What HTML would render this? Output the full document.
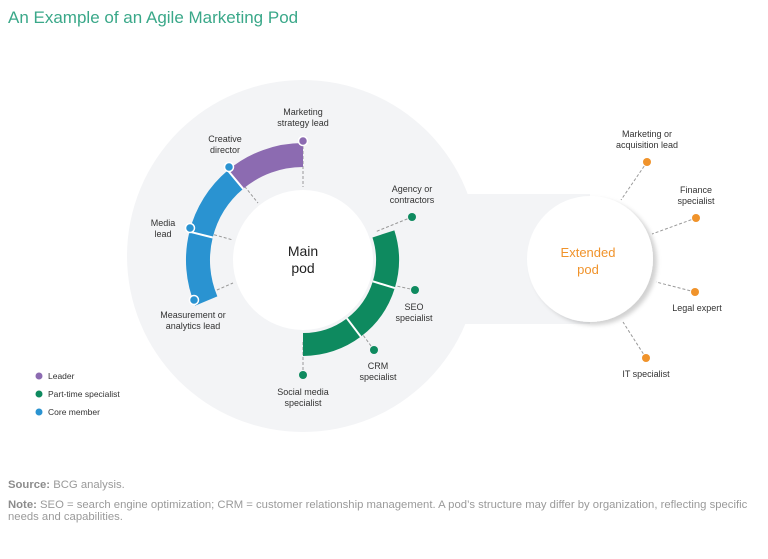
<!DOCTYPE html>
<html><head><meta charset="utf-8"><style>
html,body{margin:0;padding:0;background:#fff;width:768px;height:559px;overflow:hidden;font-family:"Liberation Sans",sans-serif;}
.t{position:absolute;left:8px;top:8px;font-size:17px;color:#3aa889;}
.f{position:absolute;left:8px;font-size:11.3px;color:#9a9a9a;line-height:12px;}
.f b{color:#8c8c8c;}
</style></head><body>
<div class="t">An Example of an Agile Marketing Pod</div>
<svg width="768" height="559" style="position:absolute;left:0;top:0" font-family="Liberation Sans, sans-serif">
<defs><filter id="sh" x="-20%" y="-20%" width="150%" height="150%"><feDropShadow dx="4" dy="3" stdDeviation="2" flood-color="#000" flood-opacity="0.18"/></filter></defs>
<circle cx="303" cy="256" r="176" fill="#f3f4f6"/>
<rect x="400" y="194" width="190" height="130" fill="#f3f4f6"/>
<circle cx="590" cy="259" r="63" fill="#fff" filter="url(#sh)"/>
<circle cx="303" cy="260" r="70" fill="#fff"/>
<g stroke="#999" stroke-width="1" stroke-dasharray="3,2">
<line x1="303" y1="141" x2="303" y2="187"/>
<line x1="229" y1="167" x2="258" y2="203"/>
<line x1="190" y1="228" x2="233" y2="240"/>
<line x1="194" y1="300" x2="233" y2="283"/>
<line x1="412" y1="217" x2="375" y2="232"/>
<line x1="415" y1="290" x2="378" y2="282"/>
<line x1="374" y1="350" x2="352" y2="320"/>
<line x1="303" y1="375" x2="303" y2="340"/>
<line x1="647" y1="162" x2="621" y2="200"/>
<line x1="696" y1="218" x2="652" y2="234"/>
<line x1="695" y1="292" x2="656" y2="282"/>
<line x1="646" y1="358" x2="623" y2="322"/>
</g>
<g fill="none" stroke-width="24">
<path d="M303,155 A105,105 0 0 0 235.5,179.6" stroke="#8c6bb1"/>
<path d="M235.5,179.6 A105,105 0 0 0 201.1,234.6" stroke="#2a93d1"/>
<path d="M201.1,234.6 A105,105 0 0 0 206.3,301" stroke="#2a93d1"/>
</g>
<g fill="none" stroke-width="23">
<path d="M383.4,233.9 A84.5,84.5 0 0 1 383.8,284.7" stroke="#0e8a5f"/>
<path d="M383.8,284.7 A84.5,84.5 0 0 1 353.9,327.5" stroke="#0e8a5f"/>
<path d="M353.9,327.5 A84.5,84.5 0 0 1 303,344.5" stroke="#0e8a5f"/>
</g>
<g stroke="#fff" stroke-width="2">
<line x1="243.2" y1="188.8" x2="227.8" y2="170.4"/>
<line x1="212.8" y1="237.5" x2="189.5" y2="231.7"/>
<line x1="372.8" y1="281.3" x2="394.8" y2="288.1"/>
<line x1="346.9" y1="318.3" x2="360.8" y2="336.7"/>
</g>
<g stroke="#fff" stroke-width="1.5">
<circle cx="303" cy="141" r="4.5" fill="#8c6bb1"/>
<circle cx="229" cy="167" r="4.5" fill="#2a93d1"/>
<circle cx="190" cy="228" r="4.5" fill="#2a93d1"/>
<circle cx="194" cy="300" r="4.5" fill="#2a93d1"/>
</g>
<g fill="#0e8a5f">
<circle cx="412" cy="217" r="4"/><circle cx="415" cy="290" r="4"/><circle cx="374" cy="350" r="4"/><circle cx="303" cy="375" r="4"/>
</g>
<g fill="#f0932b">
<circle cx="647" cy="162" r="4"/><circle cx="696" cy="218" r="4"/><circle cx="695" cy="292" r="4"/><circle cx="646" cy="358" r="4"/>
</g>
<g font-size="9" fill="#333" text-anchor="middle">
<text x="303" y="115">Marketing</text><text x="303" y="126">strategy lead</text>
<text x="225" y="142">Creative</text><text x="225" y="153">director</text>
<text x="163" y="226">Media</text><text x="163" y="237">lead</text>
<text x="193" y="318">Measurement or</text><text x="193" y="329">analytics lead</text>
<text x="412" y="192">Agency or</text><text x="412" y="203">contractors</text>
<text x="414" y="310">SEO</text><text x="414" y="321">specialist</text>
<text x="378" y="369">CRM</text><text x="378" y="380">specialist</text>
<text x="303" y="395">Social media</text><text x="303" y="406">specialist</text>
<text x="647" y="137">Marketing or</text><text x="647" y="148">acquisition lead</text>
<text x="696" y="193">Finance</text><text x="696" y="204">specialist</text>
<text x="697" y="311">Legal expert</text>
<text x="646" y="377">IT specialist</text>
</g>
<text x="303" y="256" font-size="14" fill="#222" text-anchor="middle">Main</text>
<text x="303" y="273" font-size="14" fill="#222" text-anchor="middle">pod</text>
<text x="588" y="257" font-size="13" fill="#f0932b" text-anchor="middle">Extended</text>
<text x="588" y="274" font-size="13" fill="#f0932b" text-anchor="middle">pod</text>
<circle cx="39" cy="376" r="3.5" fill="#8c6bb1"/><text x="48" y="379" font-size="8.5" fill="#333">Leader</text>
<circle cx="39" cy="394" r="3.5" fill="#0e8a5f"/><text x="48" y="397" font-size="8.5" fill="#333">Part-time specialist</text>
<circle cx="39" cy="412" r="3.5" fill="#2a93d1"/><text x="48" y="415" font-size="8.5" fill="#333">Core member</text>
</svg>
<div class="f" style="top:479px"><b>Source:</b> BCG analysis.</div>
<div class="f" style="top:499px"><b>Note:</b> SEO = search engine optimization; CRM = customer relationship management. A pod’s structure may differ by organization, reflecting specific<br>needs and capabilities.</div>
</body></html>
